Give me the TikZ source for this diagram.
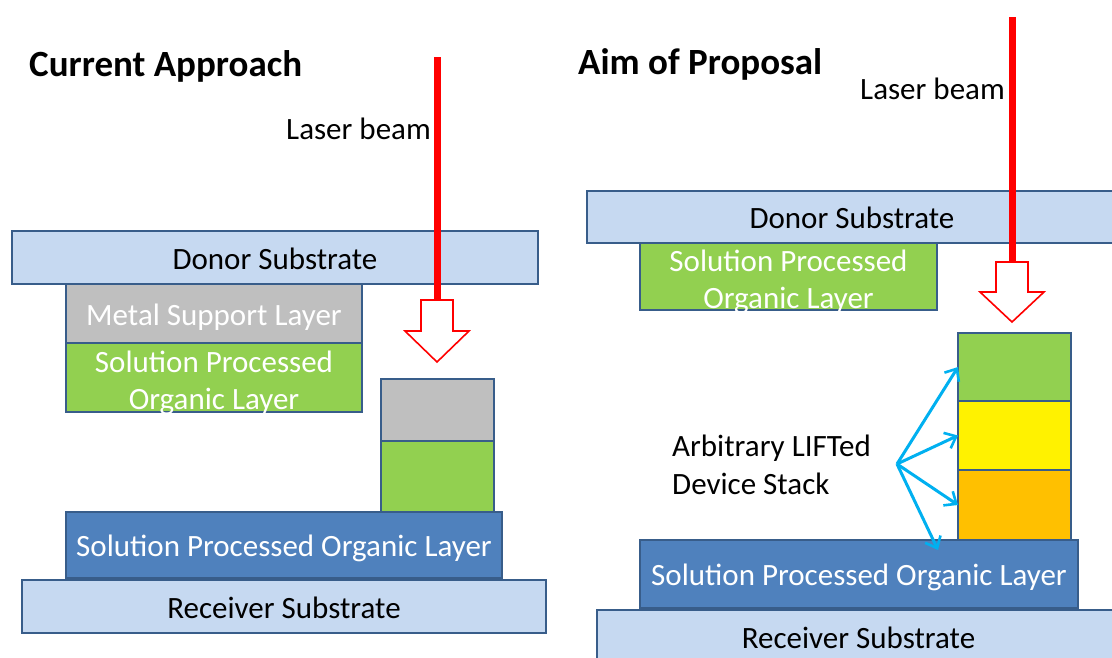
\documentclass[tikz,border=0pt]{standalone}
\usepackage{fontspec}
\setmainfont{Carlito}
\usetikzlibrary{arrows.meta, positioning}

\definecolor{edgeblue}{HTML}{385D8A}
\definecolor{paleblue}{HTML}{C6D9F1}
\definecolor{midblue}{HTML}{4F81BD}
\definecolor{leafgreen}{HTML}{92D050}
\definecolor{metalgray}{HTML}{BFBFBF}
\definecolor{amber}{HTML}{FFC000}
\definecolor{skyline}{HTML}{00B0F0}

\begin{document}
\begin{tikzpicture}[x=1pt, y=-1pt,
        layer/.style={rectangle, draw=edgeblue, line width=1.6pt, inner sep=0pt, outer sep=0pt, align=center,
            text height=23pt, text depth=0pt, font=\fontsize{31}{37}\selectfont},
        twoline/.style={text height=63pt, text depth=0pt},
        substrate/.style={layer, fill=paleblue, text=black},
        organic/.style={layer, fill=leafgreen, text=white},
        metal/.style={layer, fill=metalgray, text=white},
        film/.style={layer, fill=midblue, text=white},
        heading/.style={font=\fontsize{37}{40}\selectfont\bfseries, inner sep=0pt},
        label/.style={font=\fontsize{31}{38}\selectfont, inner sep=0pt, align=left},
        beam/.style={red, line width=7pt},
        hollow/.style={draw=red, fill=white, line width=1.6pt, line join=miter},
        pointer/.style={-{Straight Barb[length=10pt, width=17pt, line width=2.6pt]}, skyline, line width=3pt}
    ]
    \useasboundingbox (0,0) rectangle (1112,657);
    \clip (0,0) rectangle (1112,657);

    % current approach
    \node[heading, anchor=base west] (titleL) at (29,76) {Current Approach};
    \node[substrate, minimum width=526pt, minimum height=53pt] (donorL) at (275,257.5) {Donor Substrate};
    \node[metal, minimum width=296pt, minimum height=59pt, anchor=north west] (metalL) at (66,284) {Metal Support Layer};
    \node[organic, twoline, minimum width=296pt, minimum height=69pt, below=0pt of metalL] (orgL) {Solution Processed\\Organic Layer};
    \node[film, minimum width=436pt, minimum height=66pt] (blueL) at (284,545) {Solution Processed Organic Layer};
    \node[substrate, minimum width=524pt, minimum height=53pt] (recvL) at (284,606.5) {Receiver Substrate};
    \node[organic, minimum width=113pt, minimum height=71pt, anchor=south west] (pixG) at (381,512) {};
    \node[metal, minimum width=113pt, minimum height=62pt, above=0pt of pixG] (pixM) {};

    \node[label, anchor=base east] (beamL) at (431,139) {Laser beam};
    \coordinate (srcL) at (437,57);
    \coordinate (tailL) at (437,301);
    \coordinate (tipL) at (437,362);
    \draw[beam] (srcL) -- (tailL);
    \draw[hollow] (tipL) -- ++(-32,-31) -- ++(16,0) -- ++(0,-31) -- ++(32,0) -- ++(0,31) -- ++(16,0) -- cycle;

    % aim of proposal
    \node[heading, anchor=base west] (titleR) at (578,74) {Aim of Proposal};
    \node[substrate, minimum width=530pt, minimum height=52pt] (donorR) at (852,217) {Donor Substrate};
    \node[organic, twoline, minimum width=297pt, minimum height=67pt, anchor=north west] (orgR) at (640,243) {Solution Processed\\Organic Layer};
    \node[film, minimum width=438pt, minimum height=68pt] (blueR) at (859,574) {Solution Processed Organic Layer};
    \node[substrate, minimum width=523pt, minimum height=53pt] (recvR) at (858.5,636.5) {Receiver Substrate};
    \node[layer, fill=amber, minimum width=113pt, minimum height=70pt, anchor=south west] (devO) at (958,540) {};
    \node[layer, fill=yellow, minimum width=113pt, minimum height=69pt, above=0pt of devO] (devY) {};
    \node[organic, minimum width=113pt, minimum height=68pt, above=0pt of devY] (devG) {};

    \node[label, anchor=base east] (beamR) at (1005,99) {Laser beam};
    \coordinate (srcR) at (1012,17);
    \coordinate (tailR) at (1012,262);
    \coordinate (tipR) at (1012,322);
    \draw[beam] (srcR) -- (tailR);
    \draw[hollow] (tipR) -- ++(-32,-30) -- ++(16,0) -- ++(0,-30) -- ++(32,0) -- ++(0,30) -- ++(16,0) -- cycle;

    \node[label, anchor=west] (stackLbl) at (672,465) {Arbitrary LIFTed\\Device Stack};
    \coordinate (fan) at (897,464);
    \coordinate (landing) at (938,550);
    \draw[pointer] (fan) -- (devG.west);
    \draw[pointer] (fan) -- (devY.west);
    \draw[pointer] (fan) -- (devO.west);
    \draw[pointer] (fan) -- (landing);
\end{tikzpicture}
\end{document}
